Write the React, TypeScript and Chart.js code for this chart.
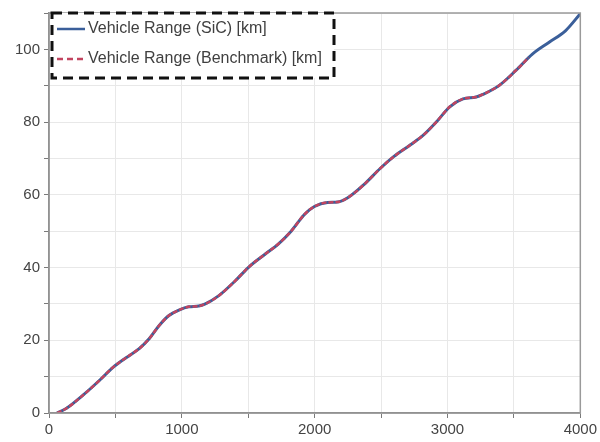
import React, { useEffect, useRef } from "react";
import { Chart, registerables } from "chart.js";

Chart.register(...registerables);

const sicTime = [60, 132, 256, 381, 480, 580, 679, 754, 828, 903, 978, 1052, 1127, 1177, 1276, 1401, 1500, 1624, 1724, 1823, 1923, 1998, 2097, 2172, 2246, 2371, 2495, 2595, 2719, 2818, 2918, 3017, 3117, 3216, 3266, 3390, 3515, 3639, 3763, 3888, 4000];
const sicRange = [0, 1.3, 4.9, 9.0, 12.5, 15.2, 17.7, 20.4, 24.0, 26.8, 28.3, 29.2, 29.4, 30.0, 32.2, 36.3, 40.0, 43.6, 46.4, 50.0, 54.6, 56.8, 57.9, 58.0, 59.1, 62.8, 67.3, 70.5, 73.7, 76.4, 80.1, 84.2, 86.4, 86.9, 87.6, 90.1, 94.2, 98.7, 101.9, 105.1, 109.8];

const benchTime = [60, 132, 256, 381, 480, 580, 679, 754, 828, 903, 978, 1052, 1127, 1177, 1276, 1401, 1500, 1624, 1724, 1823, 1923, 1998, 2097, 2172, 2246, 2371, 2495, 2595, 2719, 2818, 2918, 3017, 3117, 3216, 3266, 3390, 3515, 3610];
const benchRange = [0, 1.3, 4.9, 9.0, 12.5, 15.2, 17.7, 20.4, 24.0, 26.8, 28.3, 29.2, 29.4, 30.0, 32.2, 36.3, 40.0, 43.6, 46.4, 50.0, 54.6, 56.8, 57.9, 58.0, 59.1, 62.8, 67.3, 70.5, 73.7, 76.4, 80.1, 84.2, 86.4, 86.9, 87.6, 90.1, 94.2, 97.7];

const legendLabels = ["Vehicle Range (SiC) [km]", "Vehicle Range (Benchmark) [km]"];
const xTickLabels = [0, 1000, 2000, 3000, 4000];
const yTickLabels = [0, 20, 40, 60, 80, 100];

const BLUE = "#3b5f9a";
const RED = "#c2445f";
const FONT = "'Liberation Sans', Arial, sans-serif";

const framePlugin = {
  id: "frameLegend",
  afterDraw(chart: any) {
    const { ctx, chartArea } = chart;
    const { left, top, right, bottom } = chartArea;
    ctx.save();
    ctx.strokeStyle = "#9a9a9a";
    ctx.lineWidth = 1.5;
    ctx.strokeRect(left, top, right - left, bottom - top);

    // legend box
    const bx = 52, by = 13, bw = 282, bh = 65;
    ctx.fillStyle = "#ffffff";
    ctx.fillRect(bx, by, bw, bh);
    ctx.setLineDash([10, 6]);
    ctx.strokeStyle = "#111111";
    ctx.lineWidth = 3;
    ctx.strokeRect(bx, by, bw, bh);

    const rows = [
      { y: 29, color: BLUE, dash: [] as number[] },
      { y: 59, color: RED, dash: [6, 4] },
    ];
    rows.forEach((r, i) => {
      ctx.setLineDash(r.dash);
      ctx.strokeStyle = r.color;
      ctx.lineWidth = 2.5;
      ctx.beginPath();
      ctx.moveTo(57, r.y);
      ctx.lineTo(85, r.y);
      ctx.stroke();
      ctx.setLineDash([]);
      ctx.fillStyle = "#404040";
      ctx.font = `16px ${FONT}`;
      ctx.textBaseline = "middle";
      ctx.textAlign = "left";
      ctx.fillText(legendLabels[i], 88, r.y);
    });
    ctx.restore();
  },
};

export default function App() {
  const canvasRef = useRef<HTMLCanvasElement | null>(null);

  useEffect(() => {
    document.body.style.margin = "0";
    const canvas = canvasRef.current;
    if (!canvas) return;
    const chart = new Chart(canvas, {
      type: "line",
      data: {
        datasets: [
          {
            label: legendLabels[1],
            data: benchTime.map((t, i) => ({ x: t, y: benchRange[i] })),
            borderColor: RED,
            borderWidth: 2.5,
            borderDash: [5, 2],
            pointRadius: 0,
            cubicInterpolationMode: "monotone",
            fill: false,
            order: 0,
          },
          {
            label: legendLabels[0],
            data: sicTime.map((t, i) => ({ x: t, y: sicRange[i] })),
            borderColor: BLUE,
            borderWidth: 3,
            pointRadius: 0,
            cubicInterpolationMode: "monotone",
            fill: false,
            order: 1,
          },
        ],
      },
      options: {
        responsive: false,
        animation: false,
        layout: { padding: { top: 10, right: 15, left: 0, bottom: 0 } },
        plugins: {
          legend: { display: false },
          tooltip: { enabled: false },
        },
        scales: {
          x: {
            type: "linear",
            min: 0,
            max: 4000,
            afterFit: (s: any) => {
              s.height = 29;
            },
            border: { color: "#7a7a7a", width: 1.5 },
            grid: { color: "#e8e8e8", tickColor: "#7a7a7a", tickLength: 5, lineWidth: 1 },
            ticks: {
              stepSize: 500,
              padding: 3,
              maxRotation: 0,
              autoSkip: false,
              color: "#444444",
              font: { family: FONT, size: 15 },
              callback: (v: any) => (xTickLabels.includes(Number(v)) ? String(v) : ""),
            },
          },
          y: {
            type: "linear",
            min: 0,
            max: 110,
            afterFit: (s: any) => {
              s.width = 49;
            },
            border: { color: "#7a7a7a", width: 1.5 },
            grid: { color: "#e8e8e8", tickColor: "#7a7a7a", tickLength: 5, lineWidth: 1 },
            ticks: {
              stepSize: 10,
              padding: 4,
              autoSkip: false,
              color: "#444444",
              font: { family: FONT, size: 15 },
              callback: (v: any) => (yTickLabels.includes(Number(v)) ? String(v) : ""),
            },
          },
        },
      },
      plugins: [framePlugin],
    });
    return () => chart.destroy();
  }, []);

  return (
    <div style={{ position: "absolute", left: 0, top: 0, width: 600, height: 442, background: "#fff" }}>
      <canvas ref={canvasRef} width={600} height={442} style={{ width: 600, height: 442 }} />
    </div>
  );
}
